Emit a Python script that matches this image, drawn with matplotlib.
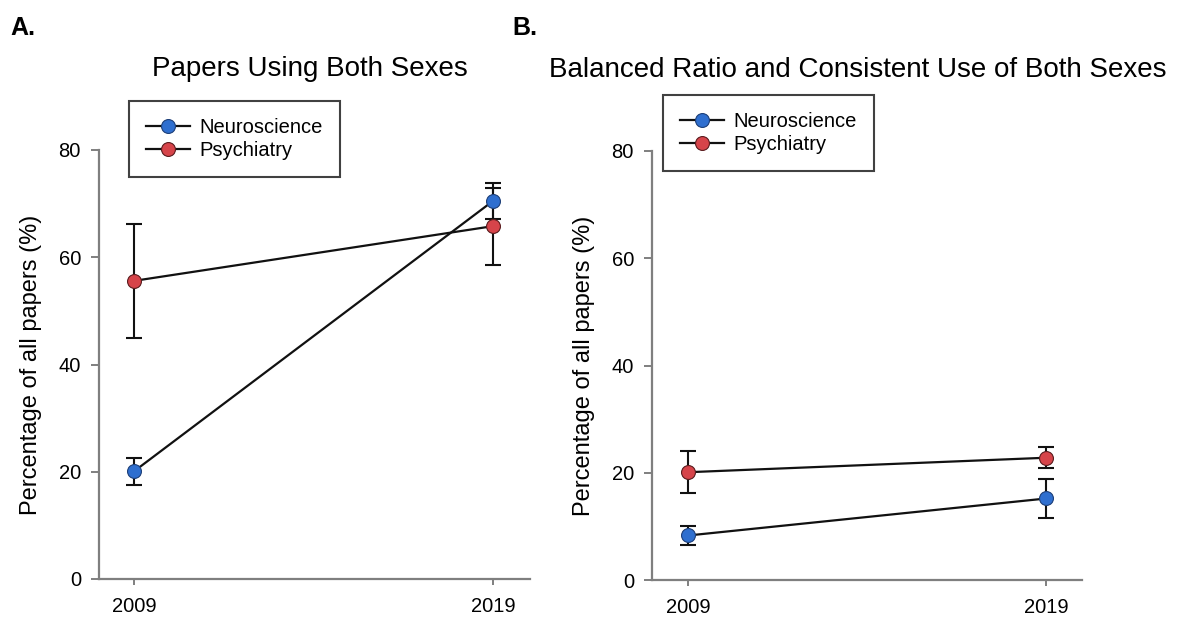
import matplotlib
matplotlib.use("Agg")
import matplotlib.pyplot as plt
from matplotlib.lines import Line2D

plt.rcParams['font.family'] = ['Liberation Sans', 'DejaVu Sans']

years = [2009, 2019]
series = ["Neuroscience", "Psychiatry"]

# Panel A: Papers Using Both Sexes
a_neuro = [20.1, 70.5]
a_neuro_err = [2.5, 3.4]
a_psych = [55.6, 65.8]
a_psych_err = [10.6, 7.2]

# Panel B: Balanced Ratio and Consistent Use of Both Sexes
b_neuro = [8.3, 15.2]
b_neuro_err = [1.8, 3.6]
b_psych = [20.1, 22.8]
b_psych_err = [3.9, 2.0]

titles = ["Papers Using Both Sexes", "Balanced Ratio and Consistent Use of Both Sexes"]
panel_labels = ["A.", "B."]
ylabel = "Percentage of all papers (%)"
yticks = [0, 20, 40, 60, 80]

blue = '#2f6fcf'
red = '#d6444a'
blue_edge = '#1d3f78'
red_edge = '#5a1c1e'
spine_gray = '#7f7f7f'

fig = plt.figure(figsize=(11.79, 6.17), dpi=100)
axA = fig.add_axes([99/1179, 38/617, 431/1179, 429/617])
axB = fig.add_axes([652/1179, 37/617, 430/1179, 429/617])

panels = [
    (axA, a_neuro, a_neuro_err, a_psych, a_psych_err, (2008.02, 2020.03), (129-99)/431, (579-177)/429, 0.49),
    (axB, b_neuro, b_neuro_err, b_psych, b_psych_err, (2007.99, 2020.0), (663-652)/430, (580-171)/429, 0.478),
]

for i, (ax, n, ne, p, pe, xl, lx, ly, tx) in enumerate(panels):
    for vals, errs, col, ec in [(n, ne, blue, blue_edge), (p, pe, red, red_edge)]:
        ax.errorbar(years, vals, yerr=errs, fmt='none', ecolor='#111111',
                    elinewidth=1.5, capsize=6, capthick=1.5, zorder=2)
        ax.plot(years, vals, color='#111111', lw=1.6, zorder=3)
        ax.plot(years, vals, 'o', ms=10, mfc=col, mec=ec, mew=0.8, zorder=4)
    ax.set_xlim(*xl)
    ax.set_ylim(0, 80)
    ax.set_xticks(years)
    ax.set_xticklabels([str(y) for y in years])
    ax.set_yticks(yticks)
    for s in ['top', 'right']:
        ax.spines[s].set_visible(False)
    for s in ['left', 'bottom']:
        ax.spines[s].set_color(spine_gray)
        ax.spines[s].set_linewidth(1.6)
    ax.tick_params(axis='y', direction='out', length=6, width=1.4, color=spine_gray,
                   labelsize=14.5, pad=7)
    ax.tick_params(axis='x', direction='out', length=4, width=1.4, color=spine_gray,
                   labelsize=14.5, pad=9)
    ax.set_ylabel(ylabel, fontsize=17, labelpad=12)
    ax.set_title(titles[i], fontsize=20, pad=53, x=tx)
    handles = [
        Line2D([0], [0], color='#111111', lw=1.6, marker='o', ms=10, mfc=blue, mec=blue_edge, mew=0.8),
        Line2D([0], [0], color='#111111', lw=1.6, marker='o', ms=10, mfc=red, mec=red_edge, mew=0.8),
    ]
    leg = ax.legend(handles, series, loc='lower left', bbox_to_anchor=(lx, ly),
                    borderaxespad=0, frameon=True, fancybox=False, fontsize=14.5,
                    handlelength=2.2, handletextpad=0.45, labelspacing=0.2,
                    borderpad=0.85)
    leg.get_frame().set_edgecolor('#111111')
    leg.get_frame().set_linewidth(1.5)
    leg.set_clip_on(False)

fig.text(10/1179, 1 - 28/617, panel_labels[0], fontsize=18, fontweight='bold', va='center', ha='left')
fig.text(512/1179, 1 - 28/617, panel_labels[1], fontsize=18, fontweight='bold', va='center', ha='left')

fig.savefig('out.png', dpi=100, facecolor='white')
